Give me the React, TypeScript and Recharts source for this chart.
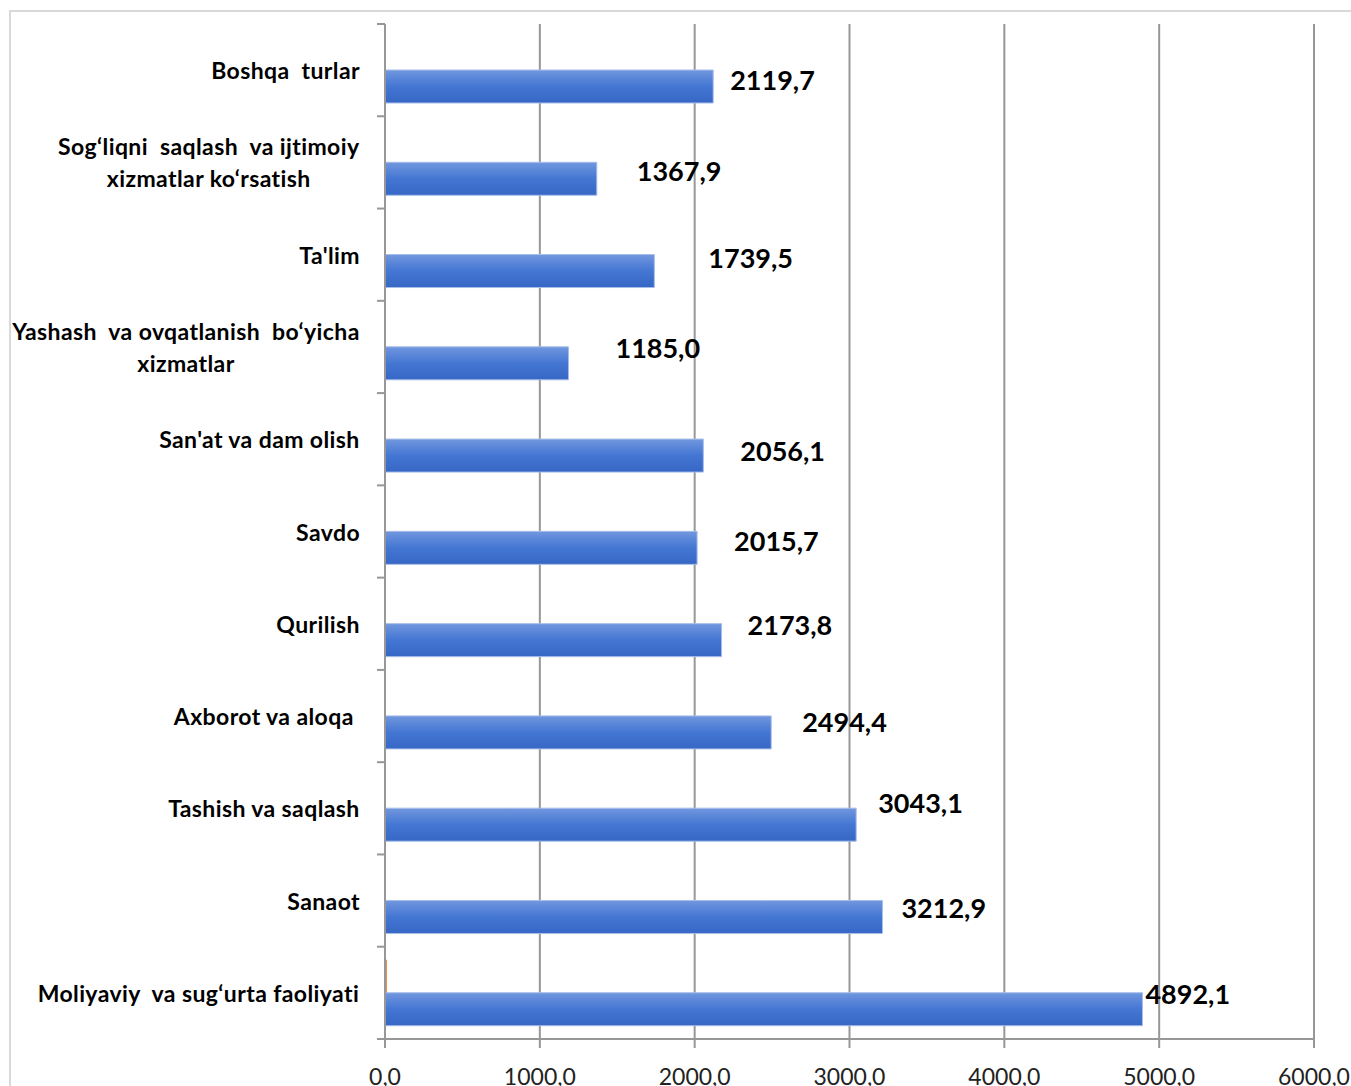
import React from 'react';
import { BarChart, Bar, XAxis, YAxis, CartesianGrid, LabelList } from 'recharts';

// categories, top to bottom as in the picture
const categories = [
  'Boshqa  turlar',
  'Sog‘liqni  saqlash  va ijtimoiy\nxizmatlar ko‘rsatish',
  "Ta'lim",
  'Yashash  va ovqatlanish  bo‘yicha\nxizmatlar',
  "San'at va dam olish",
  'Savdo',
  'Qurilish',
  'Axborot va aloqa ',
  'Tashish va saqlash',
  'Sanaot',
  'Moliyaviy  va sug‘urta faoliyati',
];
const mainValues = [2119.7, 1367.9, 1739.5, 1185.0, 2056.1, 2015.7, 2173.8, 2494.4, 3043.1, 3212.9, 4892.1];
// the tiny orange series (only visible on the last row)
const otherValues = [0, 0, 0, 0, 0, 0, 0, 0, 0, 0, 12];
const xTicks = [0, 1000, 2000, 3000, 4000, 5000, 6000];

// hand-placed data labels in the original: [dx from bar end, dy from bar middle]
const labelNudge: [number, number][] = [
  [17, -7], [40, -8], [54, -14], [47, -16], [37, -5], [37, -7],
  [26, -16], [31, -11], [22, -22], [19, -9], [3, -16],
];

const W = 1351;
const H = 1086;
const PLOT_LEFT = 385;
const PLOT_TOP = 24;
const PLOT_BOTTOM = 1039;
const BAND = (PLOT_BOTTOM - PLOT_TOP) / categories.length;
const FONT = 'Lato, "Open Sans", sans-serif';
const GRID = '#979797';
const CAT_FONT_SIZE = 23;
const CAT_SPACING = 0.4;

if (typeof document !== 'undefined') document.body.style.margin = '0';

const data = categories.map((name, i) => ({
  name,
  value: mainValues[i],
  other: otherValues[i],
}));

const fmt = (v: number) => Number(v).toFixed(1).replace('.', ',');

let ctx: CanvasRenderingContext2D | null = null;
const textWidth = (s: string, font: string) => {
  if (!ctx) ctx = document.createElement('canvas').getContext('2d');
  if (!ctx) return s.length * 11;
  ctx.font = font;
  return ctx.measureText(s).width + s.length * CAT_SPACING;
};

const CategoryTick = (props: any) => {
  const { y, payload, index } = props;
  const lines: string[] = String(payload.value).split('\n');
  const font = `bold ${CAT_FONT_SIZE}px ${FONT}`;
  const maxW = Math.max(...lines.map(l => textWidth(l, font)));
  const cx = PLOT_LEFT - 25 - maxW / 2;
  return (
    <g>
      <line x1={PLOT_LEFT - 8} x2={PLOT_LEFT} y1={y - BAND / 2} y2={y - BAND / 2} stroke={GRID} strokeWidth={2} />
      {index === categories.length - 1 && (
        <line x1={PLOT_LEFT - 8} x2={PLOT_LEFT} y1={y + BAND / 2} y2={y + BAND / 2} stroke={GRID} strokeWidth={2} />
      )}
      {lines.map((l, i) => (
        <text
          key={i}
          x={cx}
          y={y + (i - (lines.length - 1) / 2) * 32}
          textAnchor="middle"
          dominantBaseline="central"
          fontFamily={FONT}
          fontWeight="bold"
          fontSize={CAT_FONT_SIZE}
          letterSpacing={CAT_SPACING}
          fill="#000"
          style={{ whiteSpace: 'pre' }}
        >
          {l}
        </text>
      ))}
    </g>
  );
};

const ValueTick = (props: any) => {
  const { x, payload } = props;
  return (
    <text
      x={x}
      y={PLOT_BOTTOM + 37}
      textAnchor="middle"
      dominantBaseline="central"
      fontFamily={FONT}
      fontSize={23}
      fill="#222"
    >
      {fmt(payload.value)}
    </text>
  );
};

const ValueLabel = (props: any) => {
  const { x, y, width, height, value, index } = props;
  const [dx, dy] = labelNudge[index] || [5, 0];
  return (
    <text
      x={x + width + dx}
      y={y + height / 2 + dy}
      dominantBaseline="central"
      textAnchor="start"
      fontFamily={FONT}
      fontWeight="bold"
      fontSize={27}
      fill="#000"
    >
      {fmt(value)}
    </text>
  );
};

export default function App() {
  return (
    <div style={{ position: 'relative', width: W, height: H, overflow: 'hidden', background: '#fff' }}>
      <svg width={0} height={0} style={{ position: 'absolute' }}>
        <defs>
          <linearGradient id="blueBar" x1="0" y1="0" x2="0" y2="1">
            <stop offset="0%" stopColor="#7197de" />
            <stop offset="50%" stopColor="#4476d3" />
            <stop offset="100%" stopColor="#3767c4" />
          </linearGradient>
        </defs>
      </svg>
      {/* chart frame */}
      <div
        style={{
          position: 'absolute', left: 9, top: 10, width: 1400, height: 1200,
          borderTop: '2px solid #d9d9d9', borderLeft: '2px solid #d9d9d9',
        }}
      />
      <div style={{ position: 'absolute', left: 0, top: 0 }}>
        <BarChart
          width={W}
          height={H}
          data={data}
          layout="vertical"
          margin={{ top: PLOT_TOP, right: W - 1314, left: 0, bottom: 0 }}
          barSize={33}
          barGap={0}
        >
          <CartesianGrid horizontal={false} stroke={GRID} strokeWidth={2} />
          <XAxis
            type="number"
            domain={[0, 6000]}
            ticks={xTicks}
            interval={0}
            height={H - PLOT_BOTTOM}
            axisLine={{ stroke: GRID, strokeWidth: 2 }}
            tickLine={{ stroke: GRID, strokeWidth: 2 }}
            tickSize={9}
            tick={<ValueTick />}
          />
          <YAxis
            type="category"
            dataKey="name"
            width={PLOT_LEFT}
            interval={0}
            tickLine={false}
            axisLine={{ stroke: GRID, strokeWidth: 2 }}
            tick={<CategoryTick />}
          />
          <Bar dataKey="other" fill="#ED7D31" isAnimationActive={false} />
          <Bar dataKey="value" fill="url(#blueBar)" stroke="#a7bdea" strokeWidth={1} isAnimationActive={false}>
            <LabelList dataKey="value" content={<ValueLabel />} />
          </Bar>
        </BarChart>
      </div>
    </div>
  );
}
